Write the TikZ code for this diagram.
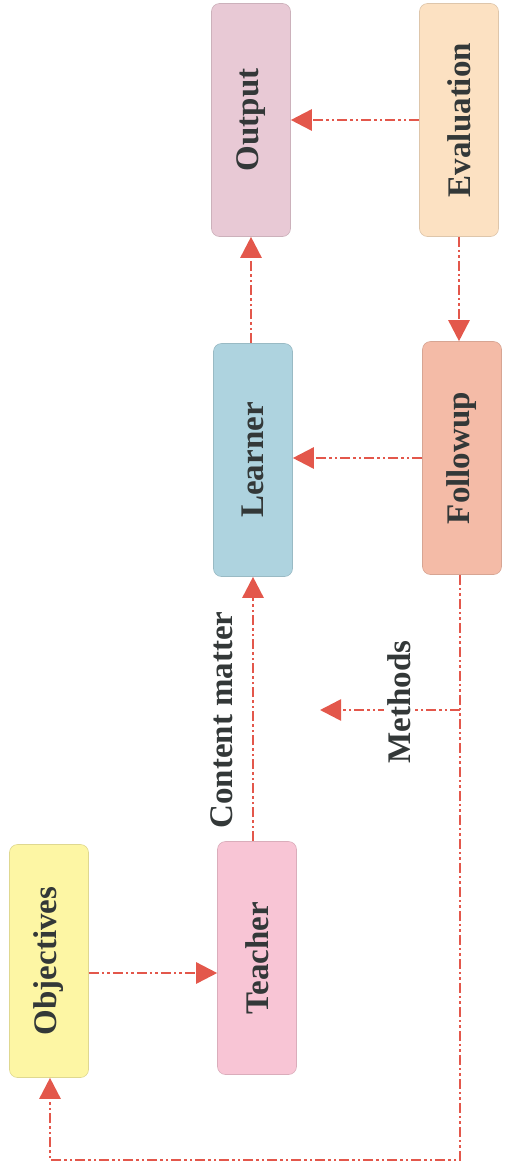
\documentclass[tikz,border=0pt]{standalone}
\usepackage{fontspec}
\setmainfont{Liberation Serif}
\usetikzlibrary{arrows.meta}
\definecolor{cobj}{HTML}{FDF6A4}
\definecolor{ctea}{HTML}{F8C5D5}
\definecolor{clea}{HTML}{AED3DF}
\definecolor{cfol}{HTML}{F4BBA7}
\definecolor{cout}{HTML}{E8C9D5}
\definecolor{ceva}{HTML}{FCE1C2}
\definecolor{carr}{HTML}{E3574B}
\definecolor{ctxt}{HTML}{333838}
\tikzset{
  box/.style={rounded corners=8pt, minimum width=79pt, minimum height=233pt, inner sep=0pt,
    draw=#1!88!black, line width=0.6pt, fill=#1, text=ctxt,
    font=\fontsize{33}{38}\selectfont\bfseries},
  conn/.style={carr, line width=2.6pt, dash pattern=on 10pt off 3pt on 2.5pt off 3pt on 2.5pt off 3pt,
    -{Triangle[length=21pt,width=21pt]}},
  lbl/.style={text=ctxt, font=\fontsize{33}{38}\selectfont\bfseries, inner sep=2pt}
}
\begin{document}
\begin{tikzpicture}[x=1pt,y=-1pt]
\useasboundingbox (0,0) rectangle (508,1168);
\node[box=cobj] (obj) at (49,961) {\rotatebox{90}{Objectives}};
\node[box=ctea] (tea) at (257,958) {\rotatebox{90}{Teacher}};
\node[box=clea] (lea) at (253,460) {\rotatebox{90}{Learner}};
\node[box=cfol] (fol) at (462,458) {\rotatebox{90}{Followup}};
\node[box=cout] (out) at (251,120) {\rotatebox{90}{Output}};
\node[box=ceva] (eva) at (459,120) {\rotatebox{90}{Evaluation}};
% connectors
\draw[conn] ([yshift=-12pt]obj.east) -- ([yshift=-12pt]obj.east -| tea.west);
\draw[conn] (tea.north -| lea.south) -- (lea.south);
\node[lbl, anchor=center] (cm) at (222,720) {\rotatebox{90}{Content matter}};
\draw[conn] (lea.north -| out.south) -- (out.south);
\draw[conn] (eva.west) -- (eva.west -| out.east);
\draw[conn] (eva.south) -- (eva.south |- fol.north);
\draw[conn] (fol.west) -- (fol.west -| lea.east);
\coordinate (c1) at (460,1160);
\coordinate (c2) at (50,1160);
\coordinate (mj) at (460,710);
\coordinate (mt) at (320,710);
\draw[conn] (fol.south -| c1) -- (c1) -- (c2) -- (c2 |- obj.south);
\draw[conn] (mj) -- (mt);
\node[lbl, fill=white, inner sep=3pt] (meth) at (399,702) {\rotatebox{90}{Methods}};
\end{tikzpicture}
\end{document}
